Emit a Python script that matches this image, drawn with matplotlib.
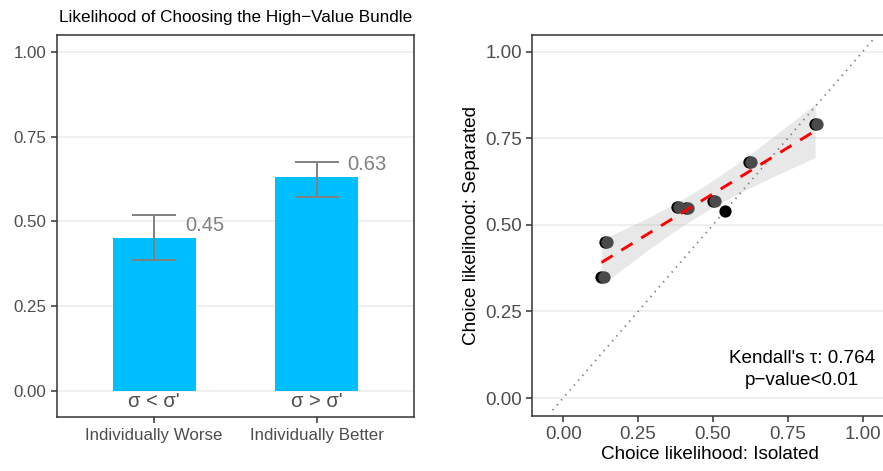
import numpy as np
import matplotlib
matplotlib.use("Agg")
import matplotlib.pyplot as plt
import matplotlib.transforms as mtransforms

plt.rcParams['font.family'] = ['Liberation Sans', 'DejaVu Sans']

# left panel data
groups = ['Individually Worse', 'Individually Better']
sigma_labels = ["σ < σ'", "σ > σ'"]
means = [0.45, 0.63]
err_lo = [0.386, 0.573]
err_hi = [0.519, 0.675]

# right panel data
isolated = [0.128, 0.139, 0.379, 0.410, 0.499, 0.539, 0.620, 0.841]
separated = [0.349, 0.449, 0.551, 0.550, 0.570, 0.540, 0.680, 0.790]
overlay = [True, True, True, True, True, False, True, True]
kendall_tau = 0.764

fig = plt.figure(figsize=(8.83, 4.71), dpi=100)

GRID = '#EBEBEB'
SPINE = '#333333'
TICKC = '#4D4D4D'

def style_axes(ax, fs):
    for s in ax.spines.values():
        s.set_color(SPINE)
        s.set_linewidth(1.1)
    ax.tick_params(axis='both', colors=SPINE, labelcolor=TICKC, labelsize=fs,
                   length=4, width=1.1, direction='out')
    ax.yaxis.grid(True, color=GRID, lw=1.1)
    ax.xaxis.grid(False)
    ax.set_axisbelow(True)

# ---- left panel ----
ax1 = fig.add_axes([0.0642, 0.114, 0.405, 0.8117])
xpos = np.arange(1, len(groups) + 1)
ax1.bar(xpos, means, width=0.51, color='#00BFFF', zorder=2)
m = np.array(means)
ax1.errorbar(xpos, m, yerr=[m - np.array(err_lo), np.array(err_hi) - m],
             fmt='none', ecolor='#808080', elinewidth=1.4, capsize=16,
             capthick=1.4, zorder=3)
for x, v in zip(xpos, means):
    ax1.text(x + 0.19, v + 0.038, f'{v:.2f}', color='#808080', fontsize=14.5,
             ha='left', va='center')
for x, s in zip(xpos, sigma_labels):
    ax1.text(x, -0.032, s, color='#4D4D4D', fontsize=14.5, ha='center', va='center')
ax1.set_xlim(0.4, 2.6)
ax1.set_ylim(-0.079, 1.051)
ax1.set_xticks(xpos)
ax1.set_xticklabels(groups)
ax1.set_yticks([0, 0.25, 0.5, 0.75, 1.0])
ax1.set_yticklabels(['0.00', '0.25', '0.50', '0.75', '1.00'])
style_axes(ax1, 12.2)
ax1.set_title('Likelihood of Choosing the High\u2212Value Bundle', fontsize=12.3,
              color='black', pad=9)

# ---- right panel ----
ax2 = fig.add_axes([0.6028, 0.1174, 0.4017, 0.8083])
xi = np.array(isolated)
ys = np.array(separated)
n = len(xi)
b1, b0 = np.polyfit(xi, ys, 1)
xg = np.linspace(xi.min(), xi.max(), 80)
yg = b0 + b1 * xg
resid = ys - (b0 + b1 * xi)
s_err = np.sqrt(np.sum(resid ** 2) / (n - 2))
sxx = np.sum((xi - xi.mean()) ** 2)
t_crit = 2.447  # t(0.975, df=6)
half = t_crit * s_err * np.sqrt(1.0 / n + (xg - xi.mean()) ** 2 / sxx)

ax2.plot([-0.035, 1.035], [-0.035, 1.035], color='#808080', lw=1.3,
         dashes=(0.8, 2.8), zorder=2)
ax2.fill_between(xg, yg - half, yg + half, color='#999999', alpha=0.22,
                 lw=0, zorder=1)
ax2.scatter(xi, ys, s=78, color='black', lw=0, zorder=3)
shift = mtransforms.offset_copy(ax2.transData, fig=fig, x=2.2, y=0, units='dots')
ax2.scatter(xi[overlay], ys[overlay], s=78, color='#4A4A4A', lw=0, zorder=4,
            transform=shift)
ax2.plot(xg, yg, color='red', lw=2.1, dashes=(4.5, 3.5), zorder=5)
ax2.text(0.797, 0.082, f"Kendall's \u03c4: {kendall_tau:.3f}\np\u2212value<0.01",
         ha='center', va='center', fontsize=13.6, color='black', linespacing=1.4)
ax2.set_xlim(-0.103, 1.081)
ax2.set_ylim(-0.051, 1.048)
ticks = [0, 0.25, 0.5, 0.75, 1.0]
ax2.set_xticks(ticks)
ax2.set_xticklabels(['0.00', '0.25', '0.50', '0.75', '1.00'])
ax2.set_yticks(ticks)
ax2.set_yticklabels(['0.00', '0.25', '0.50', '0.75', '1.00'])
style_axes(ax2, 13.5)
ax2.set_xlabel('Choice likelihood: Isolated', fontsize=13.6, labelpad=2)
ax2.set_ylabel('Choice likelihood: Separated', fontsize=13.6, labelpad=4)

fig.savefig('out.png', dpi=100)
